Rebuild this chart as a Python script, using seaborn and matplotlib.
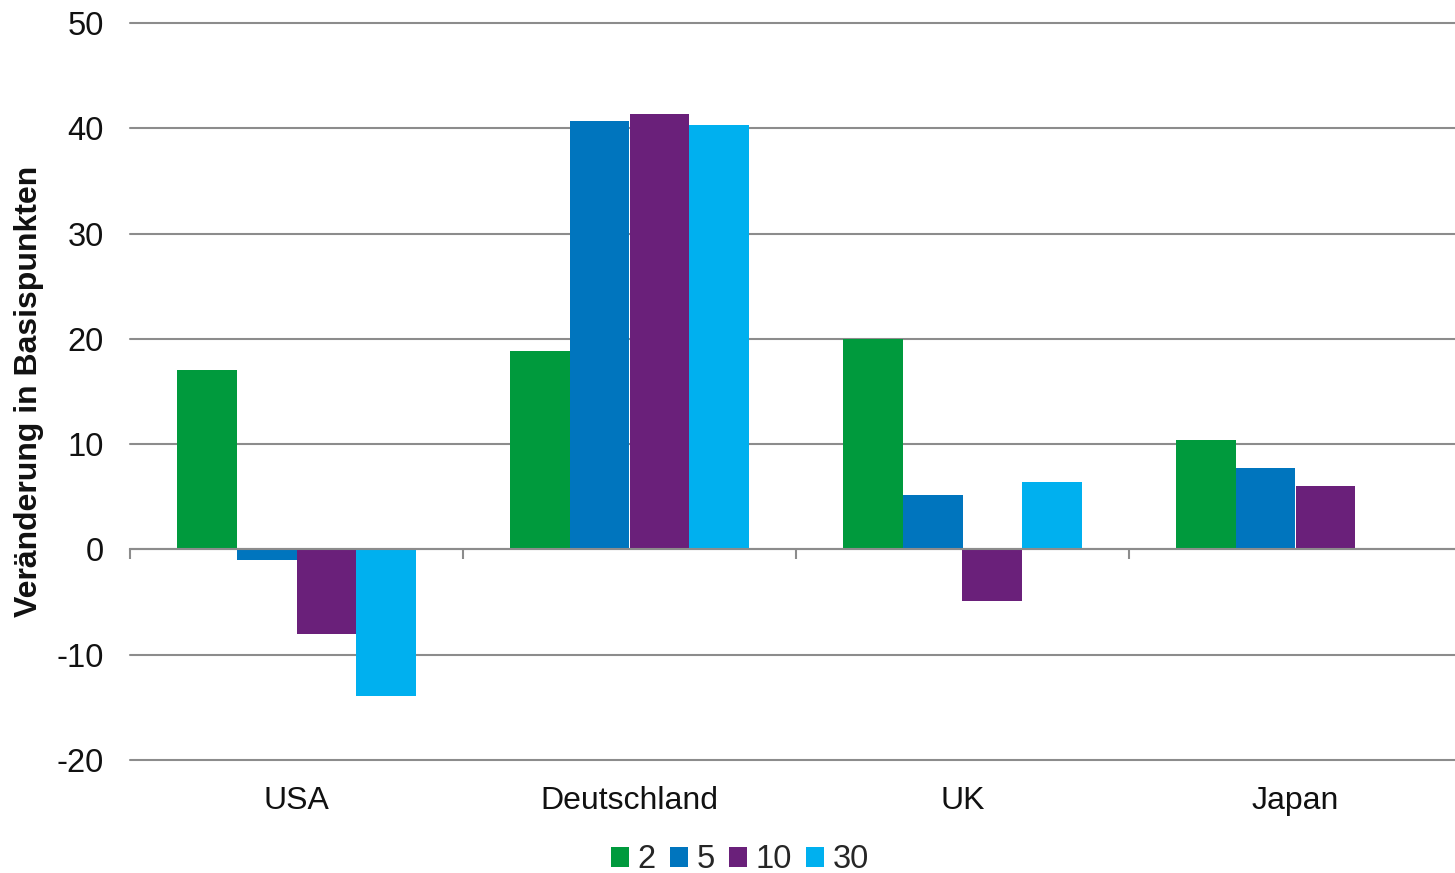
import numpy as np
import pandas as pd
import matplotlib
matplotlib.use("Agg")
import matplotlib.pyplot as plt
import seaborn as sns

laender = ["USA", "Deutschland", "UK", "Japan"]
laufzeiten = ["2", "5", "10", "30"]
werte_2 = [17.0, 18.8, 20.0, 10.4]
werte_5 = [-1.0, 40.7, 5.2, 7.7]
werte_10 = [-8.0, 41.4, -4.9, 6.0]
werte_30 = [-13.9, 40.3, 6.4, np.nan]
farben = ["#009A3D", "#0075BE", "#6A207A", "#00B0EF"]
y_ticks = [-20, -10, 0, 10, 20, 30, 40, 50]

rows = []
for lz, vals in zip(laufzeiten, [werte_2, werte_5, werte_10, werte_30]):
    for land, v in zip(laender, vals):
        rows.append({"Land": land, "Laufzeit": lz, "Wert": v})
df = pd.DataFrame(rows)

sns.set_theme(style="white")
plt.rcParams["font.family"] = ["Liberation Sans", "DejaVu Sans"]

fig = plt.figure(figsize=(14.55, 8.73), dpi=100)
ax = fig.add_axes([130 / 1455, 1 - 760 / 873, 1332 / 1455, 737 / 873])

sns.barplot(data=df, x="Land", y="Wert", hue="Laufzeit", order=laender,
            hue_order=laufzeiten, palette=farben, width=0.72, saturation=1,
            ax=ax, zorder=2, linewidth=0)

ax.set_ylim(-20, 50)
ax.set_xlim(-0.5, len(laender) - 0.5)
ax.set_yticks(y_ticks)
ax.set_yticklabels([str(t) for t in y_ticks])
ax.yaxis.grid(True, color="#8C8C8C", linewidth=1.5, zorder=0)
ax.set_axisbelow(True)
for gl in ax.get_ygridlines():
    gl.set_clip_on(False)

for s in ["left", "right", "top"]:
    ax.spines[s].set_visible(False)
ax.spines["bottom"].set_position(("data", 0))
ax.spines["bottom"].set_color("#8C8C8C")
ax.spines["bottom"].set_linewidth(1.5)
ax.spines["bottom"].set_zorder(3)

# major ticks at category boundaries (marks only), minor at centers (labels)
ax.set_xticks(np.arange(len(laender) + 1) - 0.5)
ax.set_xticklabels([])
ax.set_xticks(np.arange(len(laender)), minor=True)
ax.set_xticklabels(laender, minor=True)
ax.tick_params(axis="x", which="major", length=7, width=1.5, color="#8C8C8C",
               direction="out", bottom=True)
ax.tick_params(axis="x", which="minor", length=0, pad=170, labelsize=23,
               labelcolor="#111111")
ax.tick_params(axis="y", length=0, pad=19, labelsize=23.5, labelcolor="#111111")

ax.set_xlabel("")
ax.set_ylabel("Veränderung in Basispunkten", fontsize=23, fontweight="bold",
              color="#111111")
ax.yaxis.set_label_coords(-0.0646, 0.5)

handles, labels = ax.get_legend_handles_labels()
if ax.get_legend() is not None:
    ax.get_legend().remove()
fig.legend(handles, labels, loc="center", bbox_to_anchor=(740 / 1455, 1 - 860 / 873),
           ncol=4, frameon=False, fontsize=23.5, handlelength=0.55, handleheight=0.55,
           handletextpad=0.25, columnspacing=0.45, borderaxespad=0)

fig.savefig("out.png", dpi=100)
